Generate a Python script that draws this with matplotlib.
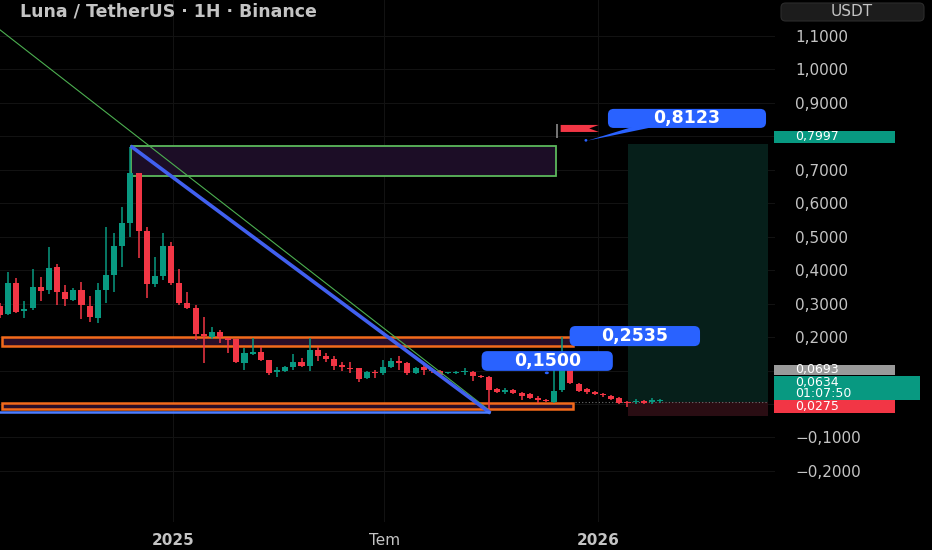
import numpy as np
import pandas as pd
import matplotlib
matplotlib.use('Agg')
import matplotlib.pyplot as plt
import matplotlib.dates as mdates
from matplotlib.patches import Rectangle, FancyBboxPatch, Polygon, Ellipse
from matplotlib.transforms import blended_transform_factory

# weekly LUNA/USDT candles
dates = pd.date_range('2024-08-05', periods=82, freq='7D')
opens = [0.293, 0.269, 0.362, 0.278, 0.287, 0.350, 0.341, 0.409, 0.335, 0.311,
         0.341, 0.293, 0.257, 0.341, 0.386, 0.472, 0.541, 0.690, 0.517, 0.359,
         0.383, 0.472, 0.362, 0.302, 0.287, 0.209, 0.200, 0.215, 0.197, 0.194,
         0.123, 0.149, 0.155, 0.131, 0.096, 0.099, 0.111, 0.126, 0.114, 0.161,
         0.143, 0.134, 0.117, 0.108, 0.108, 0.078, 0.096, 0.093, 0.111, 0.129,
         0.123, 0.093, 0.111, 0.102, 0.099, 0.092, 0.093, 0.095, 0.096, 0.084,
         0.081, 0.045, 0.036, 0.042, 0.033, 0.030, 0.018, 0.012, 0.006, 0.042,
         0.102, 0.060, 0.045, 0.036, 0.030, 0.024, 0.018, 0.006, 0.006, 0.009,
         0.006, 0.008]
highs = [0.302, 0.394, 0.377, 0.308, 0.403, 0.380, 0.469, 0.418, 0.356, 0.347,
         0.365, 0.323, 0.362, 0.529, 0.511, 0.589, 0.768, 0.690, 0.529, 0.439,
         0.511, 0.484, 0.403, 0.335, 0.296, 0.260, 0.230, 0.221, 0.197, 0.194,
         0.167, 0.197, 0.170, 0.131, 0.111, 0.114, 0.149, 0.137, 0.197, 0.170,
         0.152, 0.143, 0.126, 0.126, 0.108, 0.099, 0.102, 0.131, 0.137, 0.143,
         0.126, 0.111, 0.117, 0.108, 0.102, 0.096, 0.099, 0.108, 0.099, 0.087,
         0.084, 0.048, 0.048, 0.045, 0.036, 0.033, 0.024, 0.015, 0.102, 0.200,
         0.105, 0.063, 0.048, 0.039, 0.033, 0.027, 0.021, 0.009, 0.015, 0.012,
         0.018, 0.014]
lows = [0.257, 0.266, 0.272, 0.257, 0.281, 0.308, 0.329, 0.296, 0.293, 0.308,
        0.254, 0.245, 0.242, 0.302, 0.335, 0.409, 0.499, 0.436, 0.317, 0.350,
        0.371, 0.356, 0.296, 0.284, 0.191, 0.123, 0.194, 0.182, 0.152, 0.123,
        0.102, 0.146, 0.129, 0.087, 0.081, 0.096, 0.102, 0.111, 0.099, 0.129,
        0.126, 0.102, 0.099, 0.093, 0.066, 0.075, 0.078, 0.087, 0.108, 0.102,
        0.087, 0.090, 0.087, 0.093, 0.084, 0.090, 0.090, 0.087, 0.069, 0.078,
        -0.024, 0.033, 0.030, 0.030, 0.012, 0.015, 0.003, 0.006, 0.003, 0.036,
        0.060, 0.036, 0.030, 0.027, 0.021, 0.012, 0.000, -0.009, -0.001, 0.000,
        -0.001, 0.004]
closes = [0.266, 0.362, 0.275, 0.284, 0.350, 0.338, 0.406, 0.335, 0.314, 0.341,
          0.296, 0.260, 0.341, 0.386, 0.472, 0.541, 0.690, 0.517, 0.359, 0.383,
          0.472, 0.362, 0.302, 0.287, 0.209, 0.203, 0.215, 0.200, 0.191, 0.126,
          0.152, 0.155, 0.131, 0.093, 0.102, 0.111, 0.126, 0.114, 0.161, 0.143,
          0.134, 0.114, 0.111, 0.105, 0.075, 0.096, 0.093, 0.111, 0.129, 0.123,
          0.093, 0.108, 0.102, 0.099, 0.087, 0.095, 0.096, 0.098, 0.084, 0.081,
          0.042, 0.036, 0.042, 0.033, 0.024, 0.018, 0.012, 0.009, 0.039, 0.102,
          0.063, 0.039, 0.036, 0.030, 0.027, 0.015, 0.003, 0.003, 0.009, 0.003,
          0.012, 0.010]

# drawings on the chart
supply_zone = (0.681, 0.771)      # green box
resist_zone = (0.173, 0.200)      # upper orange box
support_zone = (-0.015, 0.003)    # lower orange box
long_entry, long_target, long_stop = 0.006, 0.777, -0.036
y_ticks = [-0.2, -0.1, 0.0, 0.1, 0.2, 0.3, 0.4, 0.5, 0.6, 0.7, 0.8, 0.9, 1.0, 1.1]
hidden_ticks = [0.0, 0.1, 0.8]    # covered by the price tags
x_ticks = ['2025-01-01', '2025-07-01', '2026-01-01']
x_labels = ['2025', 'Tem', '2026']

UP, DOWN = '#089981', '#f23645'
BLUE = '#2962ff'
ORANGE = '#f26a1b'
TXT = '#c4c4c4'

fig = plt.figure(figsize=(9.32, 5.5), dpi=100, facecolor='black')
ax = fig.add_axes([0, 28 / 550, 775 / 932, 522 / 550])
ax.set_facecolor('black')

x0 = mdates.date2num(dates[0])
def xi(i):
    return x0 + 7 * i

xnum = mdates.date2num(dates)
o, h, l, c = map(np.array, (opens, highs, lows, closes))
cols = [UP if cc >= oo else DOWN for oo, cc in zip(o, c)]
ax.vlines(xnum, l, h, colors=cols, lw=1.1, zorder=3)
body = np.where(np.abs(c - o) < 0.003, np.where(c >= o, 0.003, -0.003), c - o)
ax.bar(xnum, body, bottom=o, width=5.2, color=cols, zorder=4)

ax.set_xlim(xi(0), xi(95.1))
ax.set_ylim(-0.3527, 1.2074)

# zones
ax.add_patch(Rectangle((xi(16.1), supply_zone[0]), xi(68.2) - xi(16.1),
                       supply_zone[1] - supply_zone[0], fc='#1c0d26', ec='#5cb85c', lw=1.3, zorder=2))
for lo, hi in (resist_zone, support_zone):
    ax.add_patch(Rectangle((xi(0.2), lo), xi(70.3) - xi(0.2), hi - lo,
                           fc='#2a0e28', ec=ORANGE, lw=1.8, zorder=2))

# trend lines
ax.plot([xi(-3), xi(60)], [1.175, -0.018], color='#4caf50', lw=0.8, zorder=5)
ax.plot([xi(16.2), xi(60)], [highs[16], lows[60]], color='#4160ef', lw=2.6, zorder=5)
ax.plot([xi(-1), xi(60)], [lows[60], lows[60]], color='#4c7dff', lw=1.8, zorder=5)

# long position
ax.add_patch(Rectangle((xi(77.05), long_entry), xi(94.2) - xi(77.05), long_target - long_entry,
                       fc='#061f1a', ec='none', zorder=1))
ax.add_patch(Rectangle((xi(77.05), long_stop), xi(94.2) - xi(77.05), long_entry - long_stop,
                       fc='#2a0d13', ec='none', zorder=1))
ax.hlines(long_entry, xi(70.5), xi(94.2), colors='#707070', linestyles=(0, (1, 2)), lw=0.8, zorder=2)

# flag
ax.vlines(xi(68.35), 0.795, 0.837, colors='#8a8a8a', lw=1.2, zorder=5)
ax.add_patch(Polygon([(xi(68.8), 0.834), (xi(73.5), 0.834), (xi(72.3), 0.8235),
                      (xi(73.5), 0.813), (xi(68.8), 0.813)], closed=True, fc=DOWN, ec='none', zorder=5))

# callouts
asp = (1.56 / 522) / (7 * 95.1 / 775)
def callout(i0, i1, y0, y1, text):
    ax.add_patch(FancyBboxPatch((xi(i0), y0), xi(i1) - xi(i0), y1 - y0,
                                boxstyle='round,pad=0,rounding_size=5',
                                mutation_aspect=asp, fc=BLUE, ec='none', zorder=7))
    ax.text((xi(i0) + xi(i1)) / 2, (y0 + y1) / 2, text, color='white', fontsize=12.5,
            fontweight='bold', ha='center', va='center', zorder=8)

ax.add_patch(Polygon([(xi(77.6), 0.828), (xi(80.2), 0.828), (xi(72.1), 0.787)],
                     closed=True, fc=BLUE, ec='none', zorder=7))
ax.add_patch(Ellipse((xi(71.9), 0.788), 2.5, 0.008, fc=BLUE, zorder=7))
callout(74.6, 94.0, 0.825, 0.882, '0,8123')
ax.add_patch(Ellipse((xi(70.3), 0.200), 3.5, 0.012, fc=BLUE, ec='#1a3fb0', zorder=7))
callout(69.9, 85.9, 0.173, 0.233, '0,2535')
ax.add_patch(Ellipse((xi(67.1), 0.093), 3.5, 0.008, fc=BLUE, zorder=7))
callout(59.1, 75.2, 0.099, 0.158, '0,1500')

# axes styling
for s in ax.spines.values():
    s.set_visible(False)
ax.grid(True, color='#121212', lw=0.8)
ax.set_axisbelow(True)
ax.yaxis.tick_right()
ax.set_yticks(y_ticks)
ax.yaxis.set_major_formatter(plt.FuncFormatter(
    lambda v, _: '' if any(abs(v - t) < 1e-6 for t in hidden_ticks)
    else f'{v:.4f}'.replace('.', ',').replace('-', '\u2212')))
ax.tick_params(axis='y', length=0, pad=14.4, labelcolor=TXT, labelsize=11)
ax.set_xticks([mdates.date2num(pd.Timestamp(d)) for d in x_ticks], labels=x_labels)
ax.tick_params(axis='x', length=0, pad=8, labelcolor=TXT, labelsize=11)
for lab in ax.get_xticklabels():
    if lab.get_text() != 'Tem':
        lab.set_fontweight('bold')

# price scale labels
tr = blended_transform_factory(ax.transAxes, ax.transData)
price_tags = [('0,7997', 0.780, 0.816, 1.155, UP),
              ('0,0693', 0.086, 0.118, 1.155, '#9a9a9a'),
              ('0,0634\n01:07:50', 0.013, 0.084, 1.187, UP),
              ('0,0275', -0.027, 0.011, 1.155, DOWN)]
for txt, lo, hi, right, col in price_tags:
    ax.add_patch(Rectangle((0.9987, lo), right - 0.9987, hi - lo, transform=tr,
                           fc=col, ec='none', clip_on=False, zorder=9))
    ax.text(1.0258, (lo + hi) / 2, txt, transform=tr, color='white', fontsize=9,
            ha='left', va='center', linespacing=0.8, clip_on=False, zorder=10)

# currency box and title
fig.patches.append(FancyBboxPatch((781 / 932, 1 - 21 / 550), 143 / 932, 18 / 550,
                                  boxstyle='round,pad=0,rounding_size=0.005', mutation_aspect=932 / 550,
                                  transform=fig.transFigure, fc='#1c1c1c', ec='#2c2c2c', lw=0.8))
fig.text(852 / 932, 1 - 12 / 550, 'USDT', color=TXT, fontsize=11, ha='center', va='center')
fig.text(20 / 932, 1 - 12 / 550, 'Luna / TetherUS · 1H · Binance', color=TXT,
         fontsize=12.5, fontweight='bold', ha='left', va='center')

fig.savefig('out.png', dpi=100, facecolor='black')
